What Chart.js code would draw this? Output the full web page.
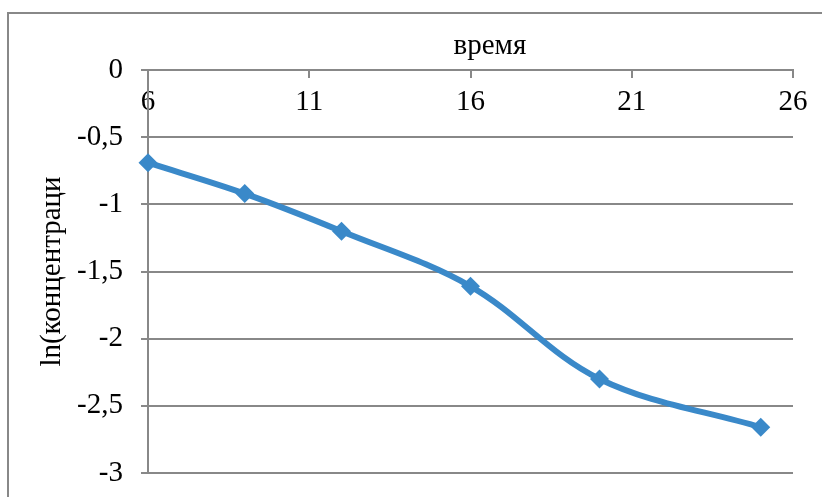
<!DOCTYPE html>
<html>
<head>
<meta charset="utf-8">
<script src="https://cdn.jsdelivr.net/npm/chart.js@4/dist/chart.umd.min.js"></script>
<style>
  html, body { margin: 0; padding: 0; background: #fff; }
  #wrap { width: 822px; height: 497px; position: relative; }
</style>
</head>
<body>
<div id="wrap"><canvas id="c" width="822" height="497"></canvas></div>
<script>
// Measurements: time vs. log of concentration
const times = [6, 9, 12, 16, 20, 25];
const lnConc = [-0.69, -0.92, -1.2, -1.61, -2.3, -2.66];

// Axis ticks and titles
const xTicks = [6, 11, 16, 21, 26];
const yTicks = [0, -0.5, -1, -1.5, -2, -2.5, -3];
const xTitle = 'время';
const yTitle = 'ln(концентраци';

const FONT = 'Liberation Serif, Times New Roman, serif';
const FONT_SIZE = 29;
const GRID = '#888888';
const LINE = '#3a89c9';

// Outer frame around the chart
const framePlugin = {
  id: 'frame',
  beforeDraw(chart) {
    const ctx = chart.ctx;
    ctx.save();
    ctx.strokeStyle = GRID;
    ctx.lineWidth = 2;
    ctx.strokeRect(8, 13, 1000, 1000);
    ctx.restore();
  }
};

// Title of the horizontal axis, sitting above the axis line
const xTitlePlugin = {
  id: 'xTitle',
  afterDraw(chart) {
    const {ctx, chartArea} = chart;
    const x = chartArea.left + (chartArea.right - chartArea.left) * 0.53;
    ctx.save();
    ctx.font = FONT_SIZE + 'px ' + FONT;
    ctx.fillStyle = '#000';
    ctx.textAlign = 'center';
    ctx.textBaseline = 'middle';
    ctx.fillText(xTitle, x, chartArea.top - 24);
    ctx.restore();
  }
};

const commaNum = v => String(v).replace('.', ',');

new Chart(document.getElementById('c'), {
  type: 'line',
  data: {
    datasets: [{
      data: times.map((t, i) => ({x: t, y: lnConc[i]})),
      borderColor: LINE,
      backgroundColor: LINE,
      borderWidth: 6,
      tension: 0.35,
      clip: false,
      pointStyle: 'rectRot',
      pointRadius: 9.5,
      pointHoverRadius: 9.5,
      pointBorderWidth: 0,
      pointBackgroundColor: LINE,
      fill: false
    }]
  },
  options: {
    responsive: false,
    animation: false,
    devicePixelRatio: 1,
    layout: { padding: { left: 35, top: 70, right: 29, bottom: 24 } },
    plugins: { legend: { display: false }, tooltip: { enabled: false } },
    scales: {
      x: {
        type: 'linear',
        position: { y: 0 },
        min: 6,
        max: 26,
        afterBuildTicks: s => { s.ticks = xTicks.map(v => ({value: v})); },
        afterFit: s => { s.paddingLeft = 0; s.paddingRight = 0; },
        grid: { drawOnChartArea: false, drawTicks: true, tickLength: 7, color: GRID, lineWidth: 2 },
        border: { display: true, color: GRID, width: 2 },
        ticks: { color: '#000', font: { family: FONT, size: FONT_SIZE }, padding: 8, maxRotation: 0, callback: v => commaNum(v) }
      },
      y: {
        type: 'linear',
        position: 'left',
        min: -3,
        max: 0,
        afterBuildTicks: s => { s.ticks = yTicks.map(v => ({value: v})); },
        afterFit: s => { s.width = 113; s.paddingTop = 0; s.paddingBottom = 0; },
        grid: { color: GRID, lineWidth: 2, drawTicks: true, tickLength: 7 },
        border: { display: true, color: GRID, width: 2 },
        ticks: { color: '#000', font: { family: FONT, size: FONT_SIZE }, padding: 18, callback: v => commaNum(v) },
        title: { display: true, text: yTitle, color: '#000', font: { family: FONT, size: FONT_SIZE }, padding: { top: 0, bottom: 0 } }
      }
    }
  },
  plugins: [framePlugin, xTitlePlugin]
});
</script>
</body>
</html>
